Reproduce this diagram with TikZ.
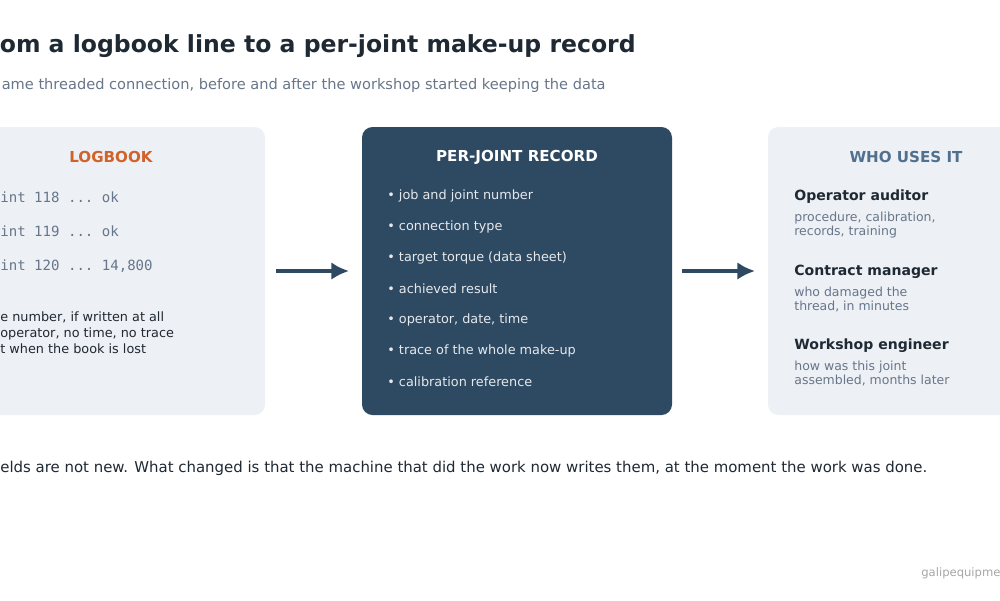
\documentclass[tikz,border=0pt]{standalone}
\usepackage{fontspec}
\setmainfont{DejaVu Sans}
\setmonofont{DejaVu Sans Mono}
\usetikzlibrary{arrows.meta}
\definecolor{ink}{HTML}{1F2933}
\definecolor{slate}{HTML}{2E4A62}
\definecolor{muted}{HTML}{67768A}
\definecolor{panel}{HTML}{EDF0F4}
\definecolor{rust}{HTML}{D0622A}
\definecolor{steel}{HTML}{50708F}
\tikzset{
  every node/.style={inner sep=0pt},
  panelbox/.style={rounded corners=6pt, draw=none},
  flowarrow/.style={-{Latex[length=10pt,width=10pt]}, line width=2.4pt, draw=slate},
  head/.style={font=\bfseries\fontsize{8.6}{10}\selectfont, anchor=center},
  item/.style={anchor=west, font=\fontsize{7.3}{9}\selectfont, text=white!88!slate},
  who/.style={anchor=west, font=\bfseries\fontsize{8.0}{9}\selectfont, text=ink},
  whonote/.style={anchor=north west, align=left, font=\fontsize{7.1}{8}\selectfont, text=muted},
  logline/.style={anchor=west, font=\ttfamily\fontsize{8.0}{9}\selectfont, text=muted}
}
\begin{document}
\begin{tikzpicture}[x=0.02cm,y=-0.02cm]
  \useasboundingbox (0,0) rectangle (1000,600);
  \clip (0,0) rectangle (1000,600);
  \fill[white] (0,0) rectangle (1000,600);

  % title and subtitle
  \node[anchor=east, font=\bfseries\fontsize{13.4}{15}\selectfont, text=ink] (title) at (636,46) {om a logbook line to a per-joint make-up record};
  \node[anchor=east, font=\fontsize{8.3}{10}\selectfont, text=muted] (sub) at (606,85) {ame threaded connection, before and after the workshop started keeping the data};

  % panels
  \fill[panel, panelbox] (-30,127) rectangle (265,415);
  \fill[slate, panelbox] (362,127) rectangle (672,415);
  \fill[panel, panelbox] (768,127) rectangle (1030,415);

  % logbook
  \node[head, text=rust] (logh) at (111,157) {LOGBOOK};
  \node[logline] (l1) at (0,197) {int 118 ... ok};
  \node[logline] (l2) at (0,231) {int 119 ... ok};
  \node[logline] (l3) at (0,266) {int 120 ... 14,800};
  \node[anchor=north west, align=left, font=\fontsize{7.3}{9.1}\selectfont, text=ink] (lnote) at (0,311)
    {e number, if written at all\\ operator, no time, no trace\\t when the book is lost};

  % record
  \node[head, text=white] (rech) at (517,157) {PER-JOINT RECORD};
  \foreach \t [count=\i] in {job and joint number, connection type, target torque (data sheet), achieved result, {operator, date, time}, trace of the whole make-up, calibration reference}
    \node[item] (r\i) at (387,{196+31*(\i-1)}) {\textbullet\ \t};

  % who uses it
  \node[head, text=steel] (whoh) at (906,157) {WHO USES IT};
  \node[who] (w1) at (794,197) {Operator auditor};
  \node[whonote] (n1) at (794,212) {procedure, calibration,\\records, training};
  \node[who] (w2) at (794,272) {Contract manager};
  \node[whonote] (n2) at (794,287) {who damaged the\\thread, in minutes};
  \node[who] (w3) at (794,346) {Workshop engineer};
  \node[whonote] (n3) at (794,361) {how was this joint\\assembled, months later};

  % arrows
  \coordinate (a1) at (276,271);
  \coordinate (b1) at (349,271);
  \coordinate (a2) at (682,271);
  \coordinate (b2) at (755,271);
  \draw[flowarrow] (a1) -- (b1);
  \draw[flowarrow] (a2) -- (b2);

  % footer
  \node[anchor=west, font=\fontsize{8.5}{10}\selectfont, text=ink] (foot) at (0,468) {elds are not new. What changed is that the machine that did the work now writes them, at the moment the work was done.};
  \node[anchor=west, font=\fontsize{6.6}{8}\selectfont, text=gray!70] (mark) at (921,573) {galipequipme};
\end{tikzpicture}
\end{document}
